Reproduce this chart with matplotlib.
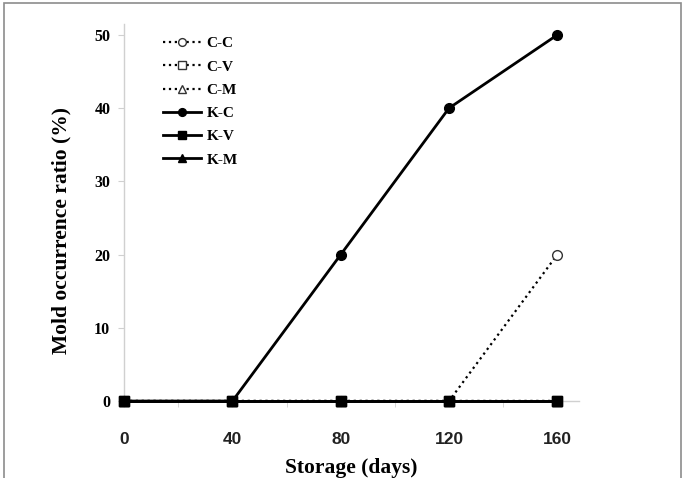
import matplotlib.pyplot as plt
from matplotlib.patches import Rectangle

days = [0, 40, 80, 120, 160]
cc = [0, 0, 0, 0, 20]
cv = [0, 0, 0, 0, 0]
cm = [0, 0, 0, 0, 0]
kc = [0, 0, 20, 40, 50]
kv = [0, 0, 0, 0, 0]
km = [0, 0, 0, 0, 0]
y_ticks = [0, 10, 20, 30, 40, 50]

serif = ['Liberation Serif', 'DejaVu Serif']
sans = ['Liberation Sans', 'DejaVu Sans']

fig = plt.figure(figsize=(6.86, 4.78), dpi=100)
ax = fig.add_axes([0.181, 0.161, 0.663, 0.789])

# frame round the whole picture
fig.patches.append(Rectangle((0.006, -0.01), 0.987, 1.003, transform=fig.transFigure,
                             fill=False, edgecolor='#8c8c8c', linewidth=1.2))

dot = dict(color='black', linestyle=':', linewidth=1.6, markersize=7,
           markerfacecolor='white', markeredgecolor='#333333', clip_on=False, zorder=3)
solid = dict(color='black', linestyle='-', linewidth=2.0, markersize=7, clip_on=False, zorder=4)

ax.plot(days, cc, marker='o', label='C-C', **dot)
ax.plot(days, cv, marker='s', label='C-V', **dot)
ax.plot(days, cm, marker='^', label='C-M', **dot)
ax.plot(days, kc, marker='o', label='K-C', **solid)
ax.plot(days, kv, marker='s', label='K-V', **solid)
ax.plot(days, km, marker='^', label='K-M', **solid)

ax.set_xlim(0, 168)
ax.set_ylim(0, 51.5)
ax.set_xticks(days)
ax.set_xticks([20, 60, 100, 140], minor=True)
ax.set_yticks(y_ticks)

for s in ['top', 'right']:
    ax.spines[s].set_visible(False)
for s in ['left', 'bottom']:
    ax.spines[s].set_color('#d0d0d0')
    ax.spines[s].set_linewidth(1.0)

ax.tick_params(axis='x', which='major', length=0, pad=22)
ax.tick_params(axis='x', which='minor', length=4, color='#d0d0d0', direction='out')
ax.tick_params(axis='y', length=4, color='#d0d0d0', pad=6)

for lab in ax.get_xticklabels():
    lab.set_fontfamily(sans)
    lab.set_fontweight('bold')
    lab.set_color('#222222')
    lab.set_fontsize(12.5)
for lab in ax.get_yticklabels():
    lab.set_fontfamily(serif)
    lab.set_fontweight('bold')
    lab.set_fontsize(11.5)

ax.set_xlabel('Storage (days)', fontfamily=serif, fontweight='bold', fontsize=15.5, labelpad=8)
ax.set_ylabel('Mold occurrence ratio (%)', fontfamily=serif, fontweight='bold', fontsize=15.5)
ax.yaxis.set_label_coords(-0.116, 0.451)

leg = ax.legend(loc='upper left', bbox_to_anchor=(0.055, 1.003), frameon=False,
                handlelength=2.5, handletextpad=0.35, labelspacing=0.63, markerscale=0.8,
                prop={'family': serif, 'weight': 'bold', 'size': 11})

fig.savefig('out.png', dpi=100)
